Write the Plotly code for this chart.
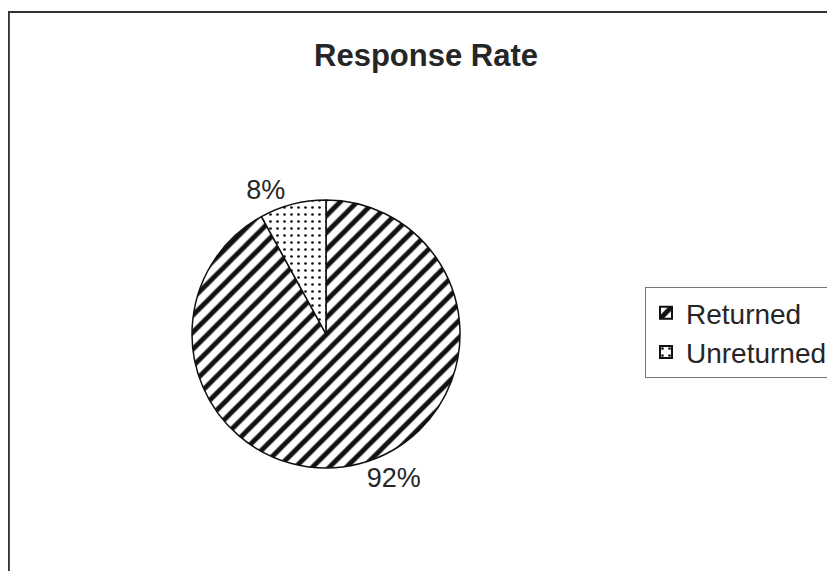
import plotly.graph_objects as go

labels = ["Returned", "Unreturned"]
values = [92, 8]
patterns = ["/", "."]
title_text = "Response Rate"

# the page body adds an 8px offset; figure coords = reference coords - 8
W, H = 835, 571
cx, cy, r = 318, 326, 134

FONT = "Liberation Sans, Arial"
TXT = "#262626"

fig = go.Figure(go.Pie(
    labels=labels,
    values=values,
    sort=False,
    direction="clockwise",
    rotation=0,
    texttemplate="%{percent:.0%}",
    textposition="outside",
    textfont=dict(family=FONT, size=27, color=TXT),
    marker=dict(
        colors=["white", "white"],
        line=dict(color="#111", width=1.5),
        pattern=dict(shape=patterns, fgcolor="#111", bgcolor="white",
                     size=[12, 7], solidity=[0.4, 0.12]),
    ),
    domain=dict(x=[(cx - r) / W, (cx + r) / W],
                y=[(H - cy - r) / H, (H - cy + r) / H]),
    hoverinfo="skip",
))

fig.update_layout(
    width=W, height=H,
    margin=dict(l=0, r=0, t=0, b=0),
    paper_bgcolor="white",
    title=dict(text="<b>" + title_text + "</b>", x=(426 - 8) / W, xanchor="center",
               y=1 - 47 / H, yanchor="middle",
               font=dict(family=FONT, size=31, color=TXT)),
    legend=dict(x=637 / W, y=1 - 279 / H, xanchor="left", yanchor="top",
                bordercolor="#777", borderwidth=1, bgcolor="white",
                font=dict(family=FONT, size=28, color=TXT),
                itemsizing="constant"),
    shapes=[dict(type="rect", xref="paper", yref="paper",
                 x0=0.001, y0=-0.05, x1=1.05, y1=1 - 4 / H,
                 line=dict(color="#333", width=2))],
)

fig.write_html("out.html")
